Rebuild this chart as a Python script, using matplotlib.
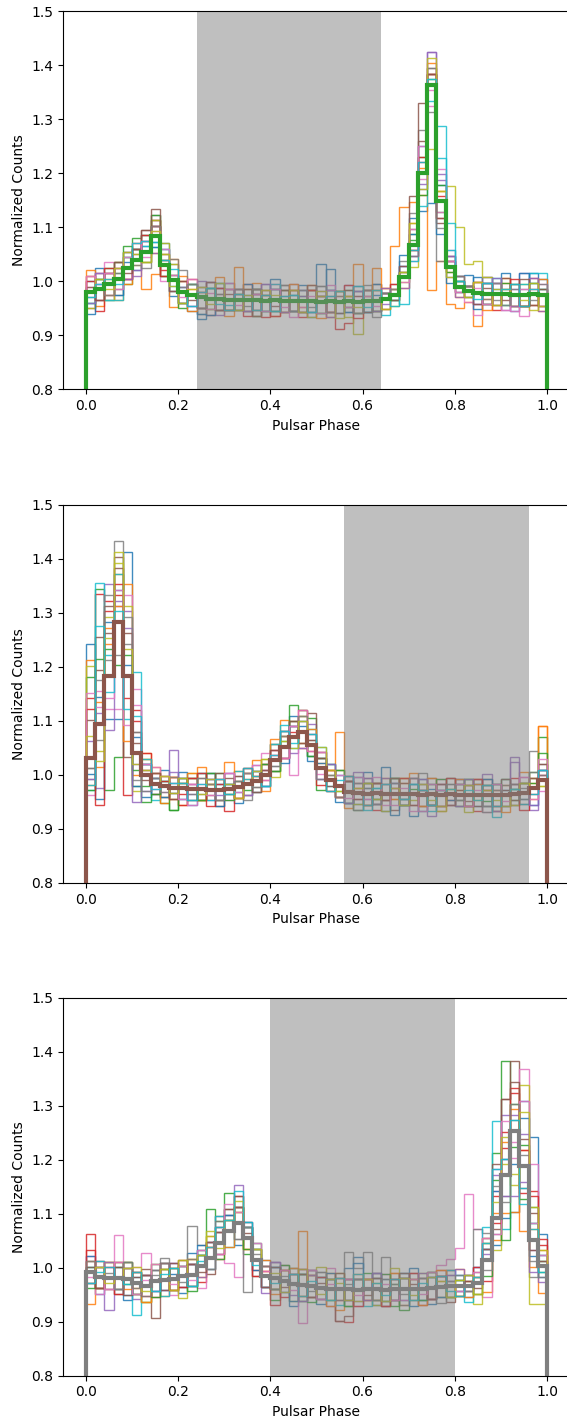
import numpy as np
import matplotlib
matplotlib.use('Agg')
import matplotlib.pyplot as plt

# 50 phase bins
edges = np.linspace(0, 1, 51)

# mean pulse profiles (thick lines)
mean_a = [0.980, 0.985, 0.995, 1.005, 1.025, 1.040, 1.055, 1.083, 1.030, 1.002,
          0.980, 0.975, 0.970, 0.968, 0.967, 0.966, 0.966, 0.965, 0.966, 0.964,
          0.965, 0.963, 0.964, 0.963, 0.963, 0.962, 0.963, 0.962, 0.963, 0.962,
          0.963, 0.964, 0.968, 0.975, 1.008, 1.067, 1.200, 1.364, 1.148, 1.027,
          0.990, 0.981, 0.978, 0.977, 0.976, 0.976, 0.975, 0.975, 0.976, 0.975]
mean_b = [1.032, 1.095, 1.183, 1.283, 1.183, 1.040, 1.000, 0.984, 0.979, 0.976,
          0.975, 0.974, 0.974, 0.973, 0.973, 0.974, 0.978, 0.983, 0.988, 1.000,
          1.027, 1.052, 1.070, 1.080, 1.055, 1.012, 0.990, 0.980, 0.968, 0.966,
          0.965, 0.966, 0.964, 0.965, 0.965, 0.964, 0.963, 0.964, 0.963, 0.964,
          0.963, 0.962, 0.963, 0.962, 0.963, 0.962, 0.964, 0.966, 0.975, 0.990]
mean_c = [0.992, 0.982, 0.981, 0.981, 0.980, 0.972, 0.967, 0.976, 0.978, 0.979,
          0.984, 0.987, 1.003, 1.018, 1.046, 1.068, 1.083, 1.055, 1.015, 0.984,
          0.981, 0.975, 0.969, 0.968, 0.966, 0.962, 0.960, 0.961, 0.960, 0.959,
          0.960, 0.961, 0.959, 0.960, 0.961, 0.960, 0.961, 0.963, 0.965, 0.966,
          0.967, 0.966, 0.972, 1.015, 1.092, 1.172, 1.253, 1.188, 1.052, 1.003]

# individual profiles, offsets from the mean in units of 0.01
dev_a = [
    [2, 4, -3, 0, 3, -2, 1, -1, 4, -3, 1, -3, -4, 2, 0, 3, -2, 1, -3, 0,
     4, -2, 0, 3, -3, 1, 6, 0, -2, 3, -2, 1, 0, 0, 2, 5, -7, -22, 3, 1,
     -1, 0, 3, -2, 1, 4, -3, 0, 4, 1],
    [4, -3, 1, -4, 0, 3, -7, -7, 2, -5, 3, 1, -2, 0, 4, -3, 1, -2, 3, 1,
     -3, 0, 2, -1, 3, 0, -3, 1, 0, -2, 0, 2, 2, 9, 13, 8, -4, -38, -11, -7,
     -4, -2, -6, -1, 0, 3, -2, 0, 1, -3],
    [-2, 0, 3, 1, -3, 4, 3, 2, 0, 1, -3, 0, 2, -2, 0, -2, 1, 0, 1, -2,
     2, 0, -2, 1, 2, -2, 0, 2, -1, 0, 2, -2, 0, 1, 0, 2, 3, 2, -2, 0,
     1, 1, 0, 2, -2, 0, 2, -2, 0, 1],
    [0, -4, 2, 3, -2, 0, 2, 3, -1, 0, -2, 3, 0, -3, 2, 0, -2, 3, 1, -3,
     0, 2, -2, -3, 0, 1, -2, -5, -4, 2, 0, -2, 1, 0, 1, -1, 2, 2, 1, 1,
     0, -1, 2, 0, -3, 1, 0, -2, 3, 0],
    [3, 1, -2, 0, 2, -3, 0, 2, 3, 0, 1, -2, 3, 0, -3, 2, 0, -2, 1, 3,
     -2, 0, 3, 1, -2, 0, 2, 0, 3, -2, 1, 0, -1, 1, 2, -2, -3, 6, 4, 2,
     1, 0, -2, 3, 0, -3, 1, 4, -2, -3],
    [-3, 3, 0, -2, 3, 1, 4, 3, -2, 1, 0, 2, -2, 3, 1, -2, 2, 0, 2, -2,
     0, 3, -2, 0, 2, 1, -2, 0, 1, 0, 2, 3, 1, -1, 0, 3, 6, 3, -4, 2,
     -1, 1, 0, -2, 2, 3, 0, -2, 0, 1],
    [1, 3, 4, 2, -2, 3, -1, 2, -3, 0, -2, 0, 2, 1, -2, 3, 0, 2, -2, 0,
     3, -2, 0, -1, 2, 0, 3, -2, 0, 1, 0, 2, 0, 0, 1, -3, -1, -1, -2, 3,
     0, -2, -4, -2, 0, -3, 0, -4, 1, 0],
    [0, -2, 2, -3, 0, 2, 3, 4, 0, 3, 4, 0, -3, 2, 3, 0, 1, -2, 0, 2,
     -2, 3, 1, 0, -2, 3, 0, 2, -1, 0, 3, 0, 1, 2, 3, 6, 8, -5, -11, -2,
     1, 0, 2, 3, -1, 0, -2, 1, 0, -2],
    [-3, 2, -3, 0, 2, -1, 0, 3, 4, 3, 2, 0, 1, -2, 0, -2, 0, 2, -3, 1,
     0, -2, 2, 0, -3, 1, 0, 2, -3, -6, 1, 0, -2, -2, -1, -4, 0, -12, 2, 15,
     11, 5, 6, 3, 1, -2, 0, 2, -3, 0],
    [-2, 0, -3, -4, 2, 0, 1, -2, 3, -1, 0, 2, -2, 0, 3, -1, 2, 0, 2, -2,
     3, 0, 1, 0, -2, 0, 2, -2, 0, 2, -2, 0, -3, -1, -5, -3, -6, -3, 14, 8,
     2, 1, 0, 2, 3, -2, 0, 2, 4, 4],
    [-4, 2, 0, -3, 1, 2, 0, -2, 1, 0, -2, 0, -3, -3, 2, 0, 0, 3, -2, 0,
     2, 0, -2, 2, 0, 7, 2, 0, -2, 0, -2, 3, 1, 0, 4, 2, 5, 0, -6, -3,
     2, 3, -3, 0, 2, 0, -2, 4, 2, 3],
    [3, 0, -2, 2, -3, 0, -2, -3, 1, 4, 0, -3, 1, 0, -2, 2, 6, 0, -2, 2,
     0, -2, 3, 0, 2, -3, 0, 2, 1, 7, 0, 6, 2, 1, -2, 4, 1, 4, 2, -1,
     -2, 0, 2, -3, 0, 2, -2, 0, -2, 3],
    [0, 2, 0, 3, 4, 2, -2, 4, -2, -2, -2, 2, 0, 2, -2, 0, -2, 0, 2, 0,
     -2, 2, 0, -2, 0, -2, 0, 0, 2, -2, 0, -2, 0, -1, 1, 1, -4, 1, 3, -1,
     1, -1, 0, -2, 0, 2, 0, -2, 2, 0],
    [2, -2, 3, 0, -2, 2, 3, 2, -2, 0, 2, 0, -2, 0, 2, -2, 2, -3, 2, 0,
     -3, 0, 2, -2, 2, 0, -2, 0, 3, -3, 2, 0, -2, 2, 0, -1, 3, 2, -3, 0,
     2, 1, 0, 2, -2, 0, 3, -2, 0, -2],
    [-2, 3, 0, 2, -2, -2, 2, -3, 0, -2, 0, -2, 0, 3, -2, 2, 0, -2, 0, 3,
     2, -2, 0, 2, 0, 2, -3, 0, 0, 2, 0, -2, 2, 0, -2, -2, -2, 6, 5, 2,
     -2, 1, -2, 2, 3, 0, -2, 0, 3, -2],
    [1, -2, 2, 3, -1, 2, 4, 5, 1, -2, 2, -1, 0, 3, -2, 1, 0, 2, -3, 1,
     -1, 2, 0, -2, 3, 0, 1, -2, 2, 1, -2, 0, 1, -1, 2, 9, 13, 2, -3, 1,
     0, 1, -2, 1, 0, -1, 2, 3, -2, 0],
    [3, 1, 2, -2, 2, 0, 2, 1, 3, 1, -1, 3, 1, -2, 0, 2, -1, 0, 1, -2,
     2, -1, -3, 0, 1, -2, 2, 0, -1, 0, 1, -1, 0, 0, -1, 3, 5, -4, 6, 1,
     -1, 0, 1, -2, 2, 0, -3, 1, 0, 2],
    [-1, 0, -2, 1, 0, -1, -3, 2, 2, 4, 1, 2, -2, 0, 1, -2, 2, -1, 2, 0,
     0, 1, -2, 2, -1, 3, -2, 1, 0, -2, 2, -3, 1, 1, 0, -2, 0, 3, -5, 0,
     2, 1, 0, -1, 2, -2, 1, 0, -1, 2],
    [0, 2, -1, 2, 3, 1, -2, 1, 2, -1, -2, 1, 2, -1, 3, 0, -2, 1, 0, 2,
     1, 0, 2, -2, 0, 2, 0, -3, 1, -1, 0, 2, -2, 0, 1, 4, -3, 5, 2, -2,
     0, -1, 2, 0, -2, 1, 0, -1, 2, -2],
    [-1, 1, 1, -1, 0, 3, 2, -1, 1, 2, 0, -2, 1, 2, -1, -2, 1, 0, -2, 1,
     -2, 1, 1, 0, -2, 0, 1, 2, 0, 3, -1, 2, 0, -2, 0, -1, 2, 1, 8, 3,
     1, 0, -1, 2, 0, 1, 2, -2, 1, 0],
]

dev_b = [
    [21, 5, 10, 6, 23, 3, 2, -2, 3, -1, 2, -3, 0, 3, -2, 1, -3, 2, 0, -2,
     3, -2, 4, 1, -3, 2, 0, -3, 2, -2, 4, 0, -3, 2, 0, -4, 3, 1, -2, 0,
     3, -2, 0, 2, -3, 1, 2, -1, 0, 2],
    [18, -8, 6, 9, 17, -4, 4, 3, -2, 2, -3, 2, 4, 1, -2, 0, 3, 1, 4, 2,
     3, 5, 2, -3, 0, 1, 2, 10, -3, 2, 0, -2, 3, -1, 2, 4, -2, 0, -3, 3,
     1, -2, 3, 0, -3, 2, 0, 4, 1, 10],
    [15, 25, -21, -25, 0, -6, -2, 1, -3, -4, 0, 2, -2, 1, 3, -1, 0, -2, 2, 0,
     -2, 3, 6, 4, 5, -4, 3, -1, 2, -3, -2, 2, 0, 3, -1, 0, 2, -2, 1, 0,
     -2, 3, 0, -1, 2, 0, -2, 2, 3, 8],
    [11, 24, 14, 5, -22, 8, 1, -2, 0, 2, -3, 1, -2, 0, 2, -4, 1, 0, -2, 1,
     1, -2, 3, 2, 0, 3, -2, 0, 2, -1, 2, -3, 0, 1, -2, 3, 0, -2, 2, -1,
     0, 2, -3, 1, 0, -2, 3, 0, -1, 2],
    [3, -12, 17, 3, 12, -2, -3, 2, 1, 7, 2, -1, 0, -2, 1, 3, -2, 0, 3, -2,
     0, 2, -3, 0, 4, -2, 1, 3, -2, 4, -1, 2, 3, 0, -2, 3, 1, -4, 2, 0,
     3, 0, 2, 4, -3, 0, 7, 2, -4, 1],
    [-2, 10, 8, 12, -15, 4, 2, 0, 2, -1, 1, 0, 3, -1, -3, 2, 0, 3, -1, 2,
     -2, 3, 0, 3, 6, 2, -2, 0, 2, 0, 3, -1, 0, -3, 2, 0, -2, 3, 0, -2,
     2, -1, 0, 3, -2, 1, 0, -2, 2, 0],
    [-7, 6, -6, -16, 15, 12, 0, 3, -1, 0, 2, -3, 1, 2, 0, -2, 1, -2, 3, 4,
     2, 0, -7, -3, 2, -1, 0, 2, -2, 1, 0, 3, -2, 1, 0, -3, 2, 0, 3, -2,
     -1, 2, 0, -3, 1, 0, -2, 3, 0, -2],
    [-4, -3, 3, 15, 6, -5, 1, 2, -2, 1, 0, 2, -1, 3, -2, 1, 2, -3, 0, 2,
     -1, 0, 2, -2, 1, 3, 0, -2, 3, -3, 2, 0, -1, 3, -2, 0, 4, -2, 0, 2,
     -2, 0, 3, -3, 0, 2, 0, 1, 7, 3],
    [17, -5, 11, 11, 13, -7, 3, 0, 2, -2, 1, 3, -2, 0, 2, 0, -2, 2, 0, 3,
     -3, 2, 0, 3, -2, 0, 1, 3, 0, -2, 0, 2, -3, 0, 3, -1, 0, 2, -3, 1,
     2, -3, 0, 2, -1, 3, -2, 0, 2, -1],
    [-6, 26, 4, 9, -8, 15, 2, -3, 1, 0, -2, 0, 3, -2, 1, 0, 3, 1, -2, 0,
     3, 4, -2, 2, 3, 4, -1, 2, -2, 0, -3, 1, 2, 0, -2, 2, 0, -3, 1, 3,
     0, -2, 2, 0, -4, 3, 1, -2, 0, 2],
    [-3, -14, -8, -18, 2, -6, -4, 1, -2, 0, 3, -2, 0, 2, -3, 1, -1, 0, 2, -2,
     0, -3, 2, 0, -2, 1, 3, -2, 0, 3, 1, -2, 5, -4, 0, 2, -3, 2, 0, -1,
     2, 0, -2, 3, 0, -2, 1, 0, -3, 0],
    [-5, 4, 9, 3, -12, 0, 3, 2, -3, 2, 0, 3, -2, 1, 0, 5, -2, 2, 1, -3,
     4, 2, 0, -2, 3, 0, 2, -2, 0, 1, -2, 0, 2, -1, 3, 0, -2, 3, -2, 0,
     3, -2, 2, 0, 1, -3, 0, 2, -2, 10],
    [-6, 12, 5, -8, 4, -3, -5, -2, 1, -4, 2, 0, -2, 3, 0, -2, 1, -1, 0, 2,
     -2, 1, 3, 0, -2, 2, 0, 3, -2, 0, 2, -1, 0, 3, -2, 1, 0, -2, 3, 0,
     -1, 3, 0, -2, 2, 0, -1, 2, 1, 5],
    [9, -15, 12, 7, -4, 6, 4, 0, 1, -2, -1, 2, 3, -3, 1, 0, -2, 3, 1, -1,
     2, -2, 1, 4, -1, -3, 2, -2, 3, 0, -2, 2, -1, 0, 3, -2, 1, 0, -2, 3,
     0, -2, 3, 1, -2, 0, 2, -3, 0, 1],
    [-4, 2, -10, 4, 9, -9, 2, 1, 0, 3, -2, 1, 0, 2, -1, 3, 0, -2, 2, 1,
     0, 3, 2, -3, 0, -2, 3, 0, -2, 2, 3, -2, 0, 2, -1, 0, 3, -2, 1, 0,
     -2, 3, 0, -2, 2, 0, 6, 0, -3, 2],
    [7, 16, 13, 10, 8, 2, -1, 2, 0, -2, 1, -2, 2, 0, 3, -1, 2, 0, -2, 1,
     2, 0, 3, -2, 1, 2, -1, 0, 2, -1, 0, 2, -1, 3, 0, -2, 1, 0, 2, -2,
     1, 0, -2, 2, 0, 3, -1, 0, 2, 3],
    [12, 3, -4, 6, -9, 9, 2, -1, 2, 1, -2, 1, 0, -1, 2, 3, -1, 2, 0, -1,
     1, -2, 2, 4, -1, 3, 0, 2, -1, 3, -1, 0, 2, -2, 1, 0, -3, 2, 1, 0,
     2, -2, 1, 0, 2, -1, 0, 3, -2, 4],
    [-2, 8, 15, -6, 11, 4, -3, 1, -1, 2, 0, -1, 2, 1, -2, 0, 1, 2, -1, 0,
     -1, 2, 0, 3, 2, -2, 1, -2, 0, 2, 1, -2, 0, 2, -1, 3, 0, -2, 0, 2,
     -1, 2, 0, -2, 1, 0, 2, -1, 3, 1],
    [4, -7, 7, 13, 5, -2, 1, 0, 2, -1, 2, 0, -1, 2, 0, 1, -2, 0, 2, 3,
     0, 1, -2, 2, 0, 4, 2, -1, 0, 1, 2, -1, 0, 1, -2, 0, 2, -1, -2, 1,
     0, 2, -1, 1, 0, -2, 1, 2, 0, -1],
    [-5, 18, -3, 2, -6, 7, 3, -1, 0, 1, 1, -2, 1, 0, 2, -1, 0, 3, 1, -2,
     1, 3, -1, 0, 2, 0, -2, 1, 3, 0, -2, 1, 2, 0, -1, 2, 1, -2, 0, 1,
     0, 1, -1, 2, -2, 0, 1, 0, -1, 2],
]

dev_c = [
    [2, -3, 3, 0, -4, 2, 0, 3, -2, 1, -3, 4, 2, -2, 3, 0, -4, 2, 0, -2,
     3, 0, -4, 2, 0, -3, 2, 0, 4, 6, 0, -3, 2, 0, -2, 4, 0, -3, 2, 1,
     1, -2, 3, 4, -5, -8, -15, 12, 19, 6],
    [-6, 3, 0, -2, 3, -1, 2, 0, -3, 2, 3, -2, 0, 4, -3, 2, 0, -2, 3, 1,
     -3, 2, 3, 10, -2, 0, 3, -4, 2, 0, -2, 2, 0, 3, -3, 0, 2, -2, 1, 3,
     3, 0, -2, -6, 1, -7, -15, 3, 2, -5],
    [1, -2, 0, 3, -1, 0, -3, 2, 3, -2, 0, 2, 3, 9, 4, 7, 2, -3, 2, 0,
     -4, 0, 2, -3, 0, 2, -2, 0, -3, 2, 3, 0, -2, 1, -4, 2, 0, 3, 0, -2,
     -2, 1, 0, 2, 12, 21, -3, -6, 3, 1],
    [7, 0, -2, 3, 0, -2, 2, -3, 0, 2, -2, 0, -3, 2, 3, 0, 5, 3, -2, 1,
     0, -3, 2, 0, 3, -2, 0, -6, -6, 2, -2, 3, 0, -2, 2, 0, -3, 2, 3, 0,
     0, 2, 1, -4, 4, 5, 7, -5, 9, 4],
    [0, 3, -6, 0, 2, -3, 0, 2, -2, 3, 2, -2, 3, 0, 2, 3, 7, 2, 0, -3,
     2, 0, -2, 3, 0, 2, -3, 0, 2, -2, 0, 2, -3, 0, 3, -2, 2, 0, -2, 3,
     2, -1, 3, 1, 8, 11, 3, 6, -2, -3],
    [-2, 2, 0, -3, 2, 0, 3, -7, 2, 0, 3, -2, 2, -3, 5, 4, 5, 2, -3, 2,
     -2, 3, 0, -2, 2, 0, 2, -6, -5, 0, 2, 0, -3, 2, 0, 3, -2, 0, 2, -3,
     -1, 0, 2, 3, -2, 14, 13, -4, 5, 2],
    [3, -3, 2, 8, 0, 3, 6, -2, 0, -3, 2, 0, -4, 2, -3, -6, -10, 2, 0, -2,
     3, 0, 2, -7, 3, -2, 4, 2, 0, -3, 2, -2, 3, 0, -2, 2, 0, 3, 4, 5,
     7, 17, 10, -7, 5, 3, -5, 18, 14, 0],
    [0, 2, -2, 0, 3, -2, 0, 2, 4, -2, 2, 9, 4, -2, 0, 3, -3, -10, 0, 2,
     -2, 2, 0, -3, 2, 3, 0, 2, 7, 4, 7, 0, 6, 2, -3, 0, 2, -2, 0, 2,
     1, 2, 10, 5, -3, -4, 2, 2, -7, 1],
    [-2, 0, 3, -2, 2, 0, -3, 3, 0, 2, -4, 3, 0, 4, 2, 0, 3, 2, 2, -2,
     0, 2, -3, 2, 0, 4, -2, 3, 0, -2, 2, -3, 0, 4, 0, -2, 3, 0, -2, 0,
     -2, -1, -4, 3, -6, 2, -10, 15, -12, -7],
    [1, 3, 0, -2, 0, -6, 2, 0, -3, 2, 0, -2, 2, 3, 5, -3, 0, 2, 3, -2,
     2, -2, 3, 0, -2, 2, 0, -3, 2, 0, -3, 2, 0, -2, 3, 0, -2, 2, 0, 3,
     2, -3, 1, 6, 18, -10, 0, -4, 3, 2],
    [3, -2, 0, 2, -3, 1, 0, -2, 3, 0, -2, 2, 4, 0, -2, 3, 0, 3, -2, 3,
     2, 0, -3, 2, 3, -2, 3, 0, -2, 5, 0, 3, -2, 0, 2, -3, 0, 2, -2, 0,
     -1, 2, 0, 2, 5, 3, -6, 9, -3, -2],
    [2, -2, 3, 0, -2, 2, -3, 0, 2, -2, 0, 3, -2, 2, 0, -3, 2, -2, 0, 3,
     -2, 0, 3, -2, 2, 0, -3, 2, 0, 3, 2, -2, 0, 3, 0, 2, -3, 0, 3, -2,
     0, -2, 1, 4, -4, 6, 4, -12, -5, 3],
    [-3, 2, 0, 2, 3, -2, 0, -3, 2, 0, 2, -3, 2, 0, -3, 2, 3, -2, 2, 0,
     -2, 3, 0, 2, -3, 0, 2, 0, -3, 2, 0, -2, 3, -3, 2, 0, -2, 3, 0, -2,
     1, 0, -2, -3, 7, -12, 5, 4, 6, -1],
    [4, -2, 2, -3, 0, 2, -2, 0, 3, -2, -2, 2, 0, 3, -2, 0, 3, 0, -3, 2,
     -5, 2, 0, 3, -2, 2, 0, -2, 2, -3, 2, 0, -3, 2, 0, 3, 0, -2, 2, 0,
     -2, 1, 3, 0, -1, 8, 8, 3, 8, 5],
    [-2, 0, 3, -2, 2, 0, 2, -2, 0, 3, 0, 2, -2, 3, 2, 2, 3, 0, 2, -2,
     3, -2, 0, -3, 2, 0, 2, 0, -2, 2, -2, 3, 0, -2, 2, 0, 3, -2, 0, 2,
     3, -1, 0, 2, 9, -4, -12, -3, -6, 0],
    [1, -2, 0, 2, -3, 1, 2, 0, -2, 3, 0, 2, -1, 3, 2, 4, 3, 1, 0, -2,
     2, -1, 0, 2, -2, 1, 0, 3, -2, 0, -1, 2, 0, -2, 3, 1, 0, -2, 2, 0,
     0, 1, -1, 2, 10, 14, 9, 5, -2, 1],
    [-1, 2, -2, 3, 0, -2, 1, 3, 0, -1, 2, -1, 3, 0, -2, 5, 2, 0, 3, 1,
     0, 2, -1, 0, 3, -2, 1, 0, 2, -1, 2, 0, 1, -2, 0, 2, -1, 3, 0, 1,
     -1, 0, 2, 4, -3, 10, -2, 12, 3, 2],
    [2, 0, 1, -2, 3, -1, -2, 1, 3, 0, -1, 3, 0, -2, 4, 0, -3, 2, 1, 2,
     -2, 1, 2, 0, -1, 3, 0, -2, 1, 2, 0, -2, 2, 1, -1, 0, 2, 0, -3, 1,
     2, -1, 0, -2, 6, -5, 5, 0, -4, -2],
    [0, 2, -1, 0, 2, 3, -1, 0, 2, -2, 3, 0, 2, 5, -1, 2, 4, 0, 2, 0,
     1, -2, 0, 3, 0, -1, 2, 1, -2, 0, 2, 1, -2, 0, 2, -1, 0, 2, 1, -2,
     1, 2, -2, 0, 3, 7, -8, 10, 6, 3],
    [-2, 1, 2, 0, -1, 2, 0, -2, 1, 2, 0, -2, 1, 2, 3, 2, 6, 3, -1, 0,
     -1, 0, 2, -2, 1, 0, -2, 2, 0, 3, 0, 1, -1, 2, 0, -2, 1, 0, 2, -1,
     -2, 0, 1, 3, 9, 3, 2, -7, 2, -1],
]

means = [mean_a, mean_b, mean_c]
devs = [dev_a, dev_b, dev_c]
mean_colors = ['C2', 'C5', 'C7']
off_pulse = [(0.24, 0.64), (0.56, 0.96), (0.40, 0.80)]

fig = plt.figure(figsize=(5.67, 14.18), dpi=100)
bottoms = [0.7255, 0.3773, 0.0298]

for k in range(3):
    ax = fig.add_axes([0.1111, bottoms[k], 0.8942, 0.2666])
    m = np.array(means[k])
    for i, d in enumerate(devs[k]):
        ax.stairs(m + np.array(d) / 100.0, edges, color='C%d' % (i % 10),
                  lw=1, alpha=0.85)
    ax.stairs(m, edges, color=mean_colors[k], lw=3)
    ax.axvspan(off_pulse[k][0], off_pulse[k][1], color='gray', alpha=0.5, lw=0)
    ax.set_xlim(-0.05, 1.05)
    ax.set_ylim(0.8, 1.5)
    ax.set_yticks(np.arange(0.8, 1.51, 0.1))
    ax.set_xticks(np.arange(0, 1.01, 0.2))
    ax.set_xlabel('Pulsar Phase')
    ax.set_ylabel('Normalized Counts')

fig.savefig('out.png', dpi=100)
